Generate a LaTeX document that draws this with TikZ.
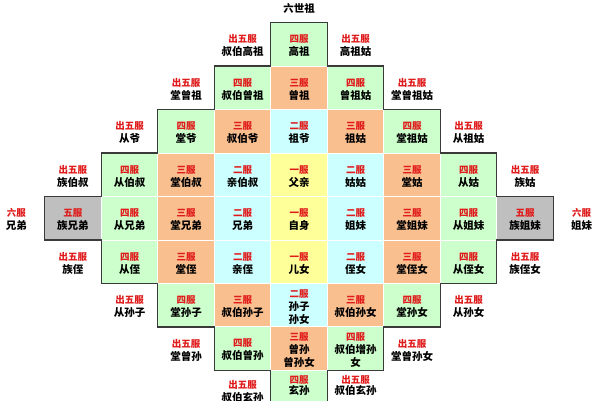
\documentclass[tikz,border=0pt]{standalone}
\usepackage{fontspec}
\newfontfamily\cjk{Noto Sans CJK SC}
\definecolor{fgreen}{HTML}{CCFFCC}
\definecolor{forange}{HTML}{FABF8F}
\definecolor{fcyan}{HTML}{CCFFFF}
\definecolor{fyellow}{HTML}{FFFF99}
\definecolor{fgray}{HTML}{BFBFBF}
\definecolor{fred}{HTML}{E01B1B}
\definecolor{fline}{HTML}{3A3A3A}
\newcommand\fu[1]{\textcolor{fred}{\fontsize{9.5}{13}\selectfont #1}}
\newcommand\fcell[6]{%
  \node[cellbox, fill=#4] (#1) at (#2,#3+0.5) {};
  \node[lbl] (#1t) at (#1.center) {\fu{#5}\\#6};}
\newcommand\ftext[5]{%
  \node[lbl] (#1) at (#2,#3+0.5) {\fu{#4}\\#5};}
\begin{document}
\begin{tikzpicture}[x=56.5pt, y=-43.45pt,
  cellbox/.style={draw=white, line width=0.9pt, minimum width=56.5pt,
    minimum height=43.45pt, inner sep=0pt, outer sep=0pt},
  lbl/.style={align=center, inner sep=0pt, yshift=-1.5pt,
    font=\cjk\bfseries\fontsize{10.5}{13}\selectfont},
  outline/.style={draw=fline, line width=1.4pt, line join=miter}]
\useasboundingbox (-5.292,-0.5224) rectangle (5.327,8.684);
\fill[white] (-5.292,-0.5224) rectangle (5.327,8.684);
% row -1
\ftext{um1}{0}{-1}{出五服}{六世祖}
% row 0
\ftext{u0l}{-1}{0}{出五服}{叔伯高祖}
\fcell{b0a}{0}{0}{fgreen}{四服}{高祖}
\ftext{u0r}{1}{0}{出五服}{高祖姑}
% row 1
\ftext{u1l}{-2}{1}{出五服}{堂曾祖}
\fcell{b1a}{-1}{1}{fgreen}{四服}{叔伯曾祖}
\fcell{b1b}{0}{1}{forange}{三服}{曾祖}
\fcell{b1c}{1}{1}{fgreen}{四服}{曾祖姑}
\ftext{u1r}{2}{1}{出五服}{堂曾祖姑}
% row 2
\ftext{u2l}{-3}{2}{出五服}{从爷}
\fcell{b2a}{-2}{2}{fgreen}{四服}{堂爷}
\fcell{b2b}{-1}{2}{forange}{三服}{叔伯爷}
\fcell{b2c}{0}{2}{fcyan}{二服}{祖爷}
\fcell{b2d}{1}{2}{forange}{三服}{祖姑}
\fcell{b2e}{2}{2}{fgreen}{四服}{堂祖姑}
\ftext{u2r}{3}{2}{出五服}{从祖姑}
% row 3
\ftext{u3l}{-4}{3}{出五服}{族伯叔}
\fcell{b3a}{-3}{3}{fgreen}{四服}{从伯叔}
\fcell{b3b}{-2}{3}{forange}{三服}{堂伯叔}
\fcell{b3c}{-1}{3}{fcyan}{二服}{亲伯叔}
\fcell{b3d}{0}{3}{fyellow}{一服}{父亲}
\fcell{b3e}{1}{3}{fcyan}{二服}{姑姑}
\fcell{b3f}{2}{3}{forange}{三服}{堂姑}
\fcell{b3g}{3}{3}{fgreen}{四服}{从姑}
\ftext{u3r}{4}{3}{出五服}{族姑}
% row 4
\ftext{u4l}{-5}{4}{六服}{兄弟}
\fcell{b4a}{-4}{4}{fgray}{五服}{族兄弟}
\fcell{b4b}{-3}{4}{fgreen}{四服}{从兄弟}
\fcell{b4c}{-2}{4}{forange}{三服}{堂兄弟}
\fcell{b4d}{-1}{4}{fcyan}{二服}{兄弟}
\fcell{b4e}{0}{4}{fyellow}{一服}{自身}
\fcell{b4f}{1}{4}{fcyan}{二服}{姐妹}
\fcell{b4g}{2}{4}{forange}{三服}{堂姐妹}
\fcell{b4h}{3}{4}{fgreen}{四服}{从姐妹}
\fcell{b4i}{4}{4}{fgray}{五服}{族姐妹}
\ftext{u4r}{5}{4}{六服}{姐妹}
% row 5
\ftext{u5l}{-4}{5}{出五服}{族侄}
\fcell{b5a}{-3}{5}{fgreen}{四服}{从侄}
\fcell{b5b}{-2}{5}{forange}{三服}{堂侄}
\fcell{b5c}{-1}{5}{fcyan}{二服}{亲侄}
\fcell{b5d}{0}{5}{fyellow}{一服}{儿女}
\fcell{b5e}{1}{5}{fcyan}{二服}{侄女}
\fcell{b5f}{2}{5}{forange}{三服}{堂侄女}
\fcell{b5g}{3}{5}{fgreen}{四服}{从侄女}
\ftext{u5r}{4}{5}{出五服}{族侄女}
% row 6
\ftext{u6l}{-3}{6}{出五服}{从孙子}
\fcell{b6a}{-2}{6}{fgreen}{四服}{堂孙子}
\fcell{b6b}{-1}{6}{forange}{三服}{叔伯孙子}
\fcell{b6c}{0}{6}{fcyan}{二服}{孙子\\孙女}
\fcell{b6d}{1}{6}{forange}{三服}{叔伯孙女}
\fcell{b6e}{2}{6}{fgreen}{四服}{堂孙女}
\ftext{u6r}{3}{6}{出五服}{从孙女}
% row 7
\ftext{u7l}{-2}{7}{出五服}{堂曾孙}
\fcell{b7a}{-1}{7}{fgreen}{四服}{叔伯曾孙}
\fcell{b7b}{0}{7}{forange}{三服}{曾孙\\曾孙女}
\fcell{b7c}{1}{7}{fgreen}{四服}{叔伯增孙\\女}
\ftext{u7r}{2}{7}{出五服}{堂曾孙女}
% row 8
\node[cellbox, fill=fgreen] (b8a) at (0,8.5) {};
\node[lbl, font=\cjk\bfseries\fontsize{10.5}{11}\selectfont] (b8at) at (0,8.315) {\fu{四服}\\玄孙};
\node[lbl] (u8l) at (-1,8.453) {\fu{出五服}\\叔伯玄孙};
\node[lbl, font=\cjk\bfseries\fontsize{10.5}{11}\selectfont] (u8r) at (1,8.315) {\fu{出五服}\\叔伯玄孙};
% staircase outline
\draw[outline] (-0.5,0) -- (0.5,0) -- (0.5,1) -- (1.5,1) -- (1.5,2) -- (2.5,2)
  -- (2.5,3) -- (3.5,3) -- (3.5,4) -- (4.5,4) -- (4.5,5) -- (3.5,5) -- (3.5,6)
  -- (2.5,6) -- (2.5,7) -- (1.5,7) -- (1.5,8) -- (0.5,8) -- (0.5,9) -- (-0.5,9)
  -- (-0.5,8) -- (-1.5,8) -- (-1.5,7) -- (-2.5,7) -- (-2.5,6) -- (-3.5,6)
  -- (-3.5,5) -- (-4.5,5) -- (-4.5,4) -- (-3.5,4) -- (-3.5,3) -- (-2.5,3)
  -- (-2.5,2) -- (-1.5,2) -- (-1.5,1) -- (-0.5,1) -- cycle;
\end{tikzpicture}
\end{document}
